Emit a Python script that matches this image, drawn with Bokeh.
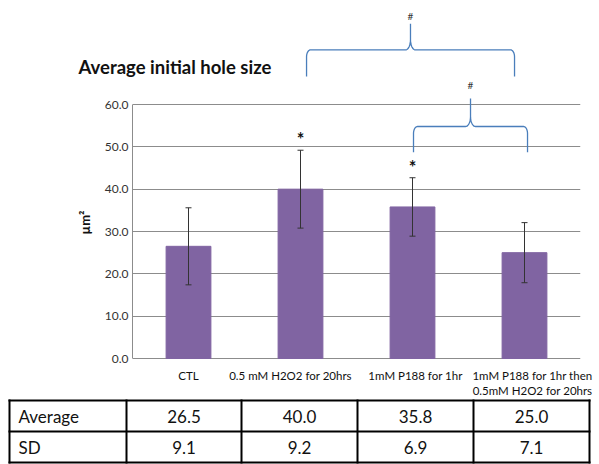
import numpy as np
from bokeh.plotting import figure
from bokeh.models import Range1d, FixedTicker, NumeralTickFormatter
from bokeh.layouts import column
from bokeh.embed import file_html
from bokeh.resources import INLINE
from bokeh.core.properties import value

# ---------------- data ----------------
categories = ["CTL", "0.5 mM H2O2 for 20hrs", "1mM P188 for 1hr",
              "1mM P188 for 1hr then\n0.5mM H2O2 for 20hrs"]
averages = [26.5, 40.0, 35.8, 25.0]
sds = [9.1, 9.2, 6.9, 7.1]
significance = ["", "*", "*", ""]
y_ticks = [0, 10, 20, 30, 40, 50, 60]
row_labels = ["Average", "SD"]
title_text = "Average initial hole size"
y_label = "µm²"

# comparison braces (data units: x in category slots, y in µm²)
brace_left = [1.554, 2.509]
brace_right = [3.411, 3.527]
brace_mid = [2.482, 3.018]
brace_foot = [66.6, 48.7]
brace_level = [72.9, 54.8]
brace_peak = [79.1, 61.4]
brace_mark_y = [81.0, 64.5]
brace_marks = ["#", "#"]

# ---------------- layout / style (page pixels) ----------------
W = 599
PAGE_X0 = 132            # page x of the plot frame's left edge (x = 0)
PAGE_X1 = 580            # page x of the plot frame's right edge
PAGE_Y0 = 358            # page y of the value 0
PAGE_Y60 = 104           # page y of the value 60
TOP_END = 78             # page y where the top strip ends / chart starts
CHART_END = 366          # page y where the chart ends / label+table strip starts
PAGE_END = 464
LABEL_SHIFT_PX = [0, -10, 3, 8]
TABLE_COLS_PX = [9, 126, 241, 357, 473, 589]
TABLE_ROWS_PX = [400, 431, 462]
FONT = "Lato"
BAR_COLOR = "#8064A2"
GRID = "#8c8c8c"
BRACE = "#4a7ebb"
TXT = "#111111"

n = len(categories)
px_per_x = (PAGE_X1 - PAGE_X0) / n
px_per_y = (PAGE_Y0 - PAGE_Y60) / 60.0
def ydat(page_y):
    return (PAGE_Y0 - page_y) / px_per_y
def xdat(page_x):
    return (page_x - PAGE_X0) / px_per_x

xs = np.arange(n) + 0.5
avg = np.array(averages)
sd = np.array(sds)

full_x = Range1d(xdat(0), xdat(W))

def bare(height, x_range, y_range):
    f = figure(width=W, height=height, x_range=x_range, y_range=y_range,
               output_backend="svg", toolbar_location=None, title=None,
               x_axis_location=None, y_axis_location=None, frame_align=False,
               min_border=0, min_border_left=0, min_border_right=0,
               min_border_top=0, min_border_bottom=0)
    f.grid.visible = False
    f.outline_line_color = None
    return f

# braces
def brace_path(x0, x1, xm, yb, yh, yp, rx=4, ry=7, cx=5, cy=10):
    rxd, ryd = rx / px_per_x, ry / px_per_y
    cxd, cyd = cx / px_per_x, cy / px_per_y
    t = np.linspace(0, np.pi / 2, 12)
    lx = [x0] + list(x0 + rxd - rxd * np.cos(t)) + list(xm - cxd + cxd * np.sin(t)) + [xm]
    ly = [yb] + list(yh - ryd + ryd * np.sin(t)) + list(yh + cyd - cyd * np.cos(t)) + [yp]
    rx_ = [x1] + list(x1 - rxd + rxd * np.cos(t)) + list(xm + cxd - cxd * np.sin(t)) + [xm]
    ry_ = [yb] + list(yh - ryd + ryd * np.sin(t)) + list(yh + cyd - cyd * np.cos(t)) + [yp]
    return lx + rx_[::-1], ly + ry_[::-1]

def draw_braces(f, idx):
    if not idx:
        return
    bx, by = [], []
    for i in idx:
        a, b = brace_path(brace_left[i], brace_right[i], brace_mid[i],
                          brace_foot[i], brace_level[i], brace_peak[i])
        bx.append(a); by.append(b)
    f.multi_line(xs=bx, ys=by, line_color=BRACE, line_width=1.3)
    f.text(x=[brace_mid[i] for i in idx], y=[brace_mark_y[i] for i in idx],
           text=[brace_marks[i] for i in idx], text_font=value(FONT),
           text_font_size="10px", text_align="center", text_baseline="middle",
           text_color="#333333")

top_braces = [i for i in range(len(brace_left)) if brace_foot[i] > ydat(TOP_END)]
chart_braces = [i for i in range(len(brace_left)) if i not in top_braces]

# ---------------- top strip: title + upper brace ----------------
top = bare(TOP_END, full_x, Range1d(ydat(TOP_END), ydat(0)))
top.text(x=[xdat(78)], y=[ydat(66)], text=[title_text], text_font=value(FONT),
         text_font_size="18.5px", text_font_style="bold", text_align="left",
         text_baseline="middle", text_color=TXT)
draw_braces(top, top_braces)

# ---------------- chart ----------------
p = figure(width=W, height=CHART_END - TOP_END, x_range=Range1d(0, n),
           y_range=Range1d(ydat(CHART_END), ydat(TOP_END)),
           output_backend="svg", toolbar_location=None, title=None,
           x_axis_location=None, frame_align=False,
           min_border_left=PAGE_X0, min_border_right=W - PAGE_X1,
           min_border_bottom=0, min_border_top=0)
p.outline_line_color = None
p.xgrid.visible = False
p.ygrid.ticker = FixedTicker(ticks=y_ticks)
p.ygrid.grid_line_color = GRID

p.yaxis.ticker = FixedTicker(ticks=y_ticks)
p.yaxis.formatter = NumeralTickFormatter(format="0.0")
p.yaxis.bounds = (0, 60)
p.yaxis.axis_line_color = GRID
p.yaxis.major_tick_line_color = None
p.yaxis.minor_tick_line_color = None
p.yaxis.major_tick_out = 0
p.yaxis.major_tick_in = 0
p.yaxis.minor_tick_out = 0
p.yaxis.major_label_standoff = 4
p.yaxis.major_label_text_font = FONT
p.yaxis.major_label_text_font_size = "12px"
p.yaxis.major_label_text_color = "#333333"
p.yaxis.axis_label = y_label
p.yaxis.axis_label_text_font = FONT
p.yaxis.axis_label_text_font_size = "13px"
p.yaxis.axis_label_text_font_style = "bold"
p.yaxis.axis_label_text_color = TXT
p.yaxis.axis_label_standoff = 9

p.vbar(x=xs, top=avg, width=0.4, bottom=0, fill_color=BAR_COLOR, line_color=BAR_COLOR)

cap = 3.0 / px_per_x
p.segment(x0=xs, x1=xs, y0=avg - sd, y1=avg + sd, line_color="#333333", line_width=1)
p.segment(x0=xs - cap, x1=xs + cap, y0=avg + sd, y1=avg + sd, line_color="#333333", line_width=1)
p.segment(x0=xs - cap, x1=xs + cap, y0=avg - sd, y1=avg - sd, line_color="#333333", line_width=1)

p.text(x=xs, y=avg + sd, text=significance, text_font=value(FONT), text_font_size="18px",
       text_font_style="bold", text_align="center", text_baseline="middle",
       y_offset=-11, text_color=TXT)
draw_braces(p, chart_braces)

# ---------------- bottom strip: category labels + table ----------------
BH = PAGE_END - CHART_END
bot = bare(BH, full_x, Range1d(BH, 0))      # y grows downward, in pixels
bot.text(x=xs, y=[2] * n, text=categories, x_offset=LABEL_SHIFT_PX,
         text_font=value(FONT), text_font_size="11.5px",
         text_align="center", text_baseline="top", text_color=TXT,
         text_line_height=1.2)

col_edges = [xdat(c) for c in TABLE_COLS_PX]
row_edges = [r - CHART_END for r in TABLE_ROWS_PX]
for xe in col_edges:
    bot.segment(x0=xe, x1=xe, y0=row_edges[0] - 1, y1=row_edges[-1] + 1,
                line_color="black", line_width=2)
for ye in row_edges:
    bot.segment(x0=col_edges[0] - 1 / px_per_x, x1=col_edges[-1] + 1 / px_per_x, y0=ye, y1=ye,
                line_color="black", line_width=2)

row_vals = [[f"{v:.1f}" for v in averages], [f"{v:.1f}" for v in sds]]
for r, lab in enumerate(row_labels):
    yc = (row_edges[r] + row_edges[r + 1]) / 2
    bot.text(x=[col_edges[0] + 9 / px_per_x], y=[yc], text=[lab], text_font=value(FONT),
             text_font_size="17px", text_align="left", text_baseline="middle", text_color=TXT)
    cxs = [(col_edges[c + 1] + col_edges[c + 2]) / 2 for c in range(n)]
    bot.text(x=cxs, y=[yc] * n, text=row_vals[r], text_font=value(FONT),
             text_font_size="17px", text_align="center", text_baseline="middle", text_color=TXT)

layout = column(top, p, bot, spacing=0)
open("out.html", "w").write(file_html(layout, INLINE))
